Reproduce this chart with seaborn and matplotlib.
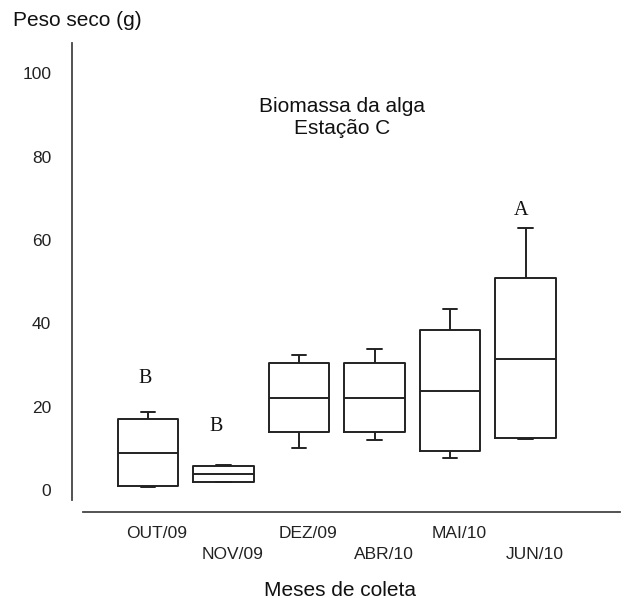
import numpy as np
import pandas as pd
import matplotlib
matplotlib.use("Agg")
import matplotlib.pyplot as plt
import matplotlib.transforms as mtransforms
import seaborn as sns

# Five-number summaries per month (min, Q1, median, Q3, max)
months = ["OUT/09", "NOV/09", "DEZ/09", "ABR/10", "MAI/10", "JUN/10"]
v_min = [0.8, 1.9, 10.2, 12.0, 7.6, 12.2]
v_q1 = [1.0, 1.9, 13.9, 13.9, 9.4, 12.6]
v_med = [9.0, 3.8, 22.1, 22.2, 23.7, 31.5]
v_q3 = [17.0, 5.7, 30.4, 30.4, 38.3, 51.0]
v_max = [18.7, 5.9, 32.3, 33.8, 43.5, 62.9]

letters = ["B", "B", "A"]
letter_x = [-0.04, 0.905, 4.94]
letter_y = [26.8, 15.2, 67.1]

yticks = [0, 20, 40, 60, 80, 100]

rows = []
for m, a, b, c, d, e in zip(months, v_min, v_q1, v_med, v_q3, v_max):
    for v in (a, b, c, d, e):
        rows.append({"mes": m, "peso": v})
df = pd.DataFrame(rows)

sns.set_theme(style="white")
plt.rcParams["font.family"] = ["Liberation Sans", "DejaVu Sans"]

fig = plt.figure(figsize=(6.25, 5.98), dpi=100)
ax = fig.add_axes([72 / 625, 1 - 511.7 / 598, (620 - 72) / 625, (511.7 - 43) / 598])

lc = "#222222"
sns.boxplot(data=df, x="mes", y="peso", order=months, ax=ax, fill=False,
            color=lc, linecolor=lc, linewidth=1.4, width=0.8, whis=10,
            capwidths=0.19, showfliers=False)

ax.set_xlim(-1.007, 6.25)
ax.set_ylim(-5.2, 107.3)
ax.set_yticks(yticks)
ax.set_yticklabels([str(t) for t in yticks])
ax.set_xticks(range(len(months)))
ax.set_xticklabels([m if i % 2 == 0 else "\n" + m for i, m in enumerate(months)])
ax.set_xlabel("")
ax.set_ylabel("")

for s in ["top", "right"]:
    ax.spines[s].set_visible(False)
ax.spines["left"].set_bounds(-2.4, 107.3)
ax.spines["bottom"].set_bounds(-0.86, 6.25)
for s in ["left", "bottom"]:
    ax.spines[s].set_color("#444444")
    ax.spines[s].set_linewidth(1.3)

ax.tick_params(axis="y", length=0, pad=15, labelsize=12.5, labelcolor="#222222")
ax.tick_params(axis="x", length=0, pad=10.5, labelsize=12.5, labelcolor="#222222")
offset = mtransforms.ScaledTranslation(9 / 100, 0, fig.dpi_scale_trans)
for lab in ax.get_xticklabels():
    lab.set_linespacing(1.45)
    lab.set_transform(lab.get_transform() + offset)

for t, x, y in zip(letters, letter_x, letter_y):
    ax.text(x, y, t, ha="center", va="center", fontsize=14.5,
            family=["Liberation Serif", "DejaVu Serif"], color="#111111")

ax.text(2.57, 89.4, "Biomassa da alga\nEstação C", ha="center", va="center",
        fontsize=15, color="#111111", linespacing=1.2)

fig.text(13 / 625, 1 - 21 / 598, "Peso seco (g)", ha="left", va="center",
         fontsize=15, color="#111111")
fig.text(340 / 625, 1 - 590 / 598, "Meses de coleta", ha="center", va="center",
         fontsize=15, color="#111111")

fig.savefig("out.png", dpi=100)
